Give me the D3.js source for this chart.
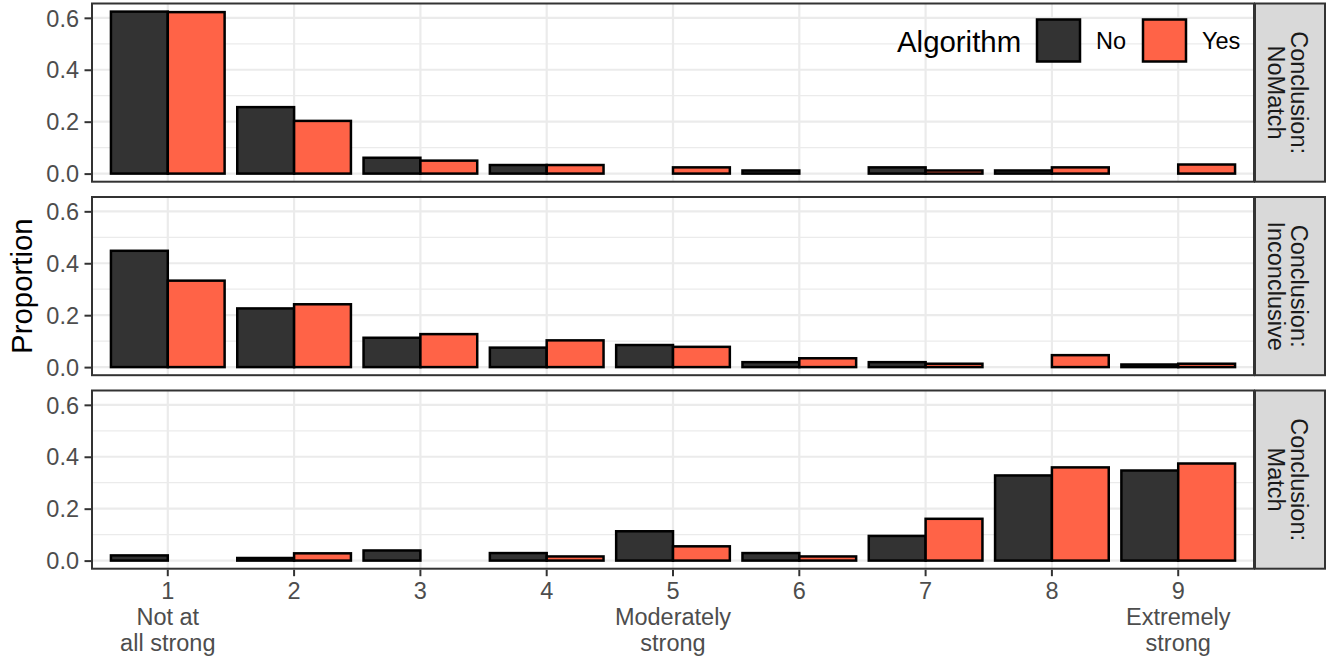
<!DOCTYPE html>
<html><head><meta charset="utf-8">
<script src="https://cdn.jsdelivr.net/npm/d3@7"></script>
<style>
body{margin:0;background:#fff}
text{font-family:"Liberation Sans",Arial,Helvetica,sans-serif}
</style>
</head><body>
<svg id="c" width="1334" height="659"></svg>
<script>
// ---- data ----
const categories = ["1","2","3","4","5","6","7","8","9"];
const tickLabels = [["1","Not at","all strong"],["2"],["3"],["4"],["5","Moderately","strong"],["6"],["7"],["8"],["9","Extremely","strong"]];
const conclusions = ["NoMatch","Inconclusive","Match"];
const algorithms = ["No","Yes"];
const noMatchNo  = [0.624, 0.256, 0.061, 0.033, null, 0.012, 0.024, 0.012, null];
const noMatchYes = [0.622, 0.203, 0.050, 0.033, 0.024, null, 0.012, 0.024, 0.035];
const inconclNo  = [0.448, 0.226, 0.113, 0.075, 0.085, 0.019, 0.019, null, 0.010];
const inconclYes = [0.333, 0.242, 0.127, 0.103, 0.078, 0.034, 0.013, 0.046, 0.013];
const matchNo    = [0.020, 0.010, 0.039, 0.029, 0.113, 0.029, 0.095, 0.328, 0.347];
const matchYes   = [null, 0.028, null, 0.016, 0.055, 0.016, 0.161, 0.359, 0.374];
const yTicks = [0, 0.2, 0.4, 0.6];
const yMinor = [0.1, 0.3, 0.5];
const colors = {No:"#333333", Yes:"#FF6347"};

const seriesByPanel = {
  NoMatch: {No: noMatchNo, Yes: noMatchYes},
  Inconclusive: {No: inconclNo, Yes: inconclYes},
  Match: {No: matchNo, Yes: matchYes}
};

// ---- layout ----
const svg = d3.select("#c");
const left = 92, right = 1254, stripW = 71;
const panelTop0 = 3.5, panelH = 178.2, panelGap = 15.3;
const FS = 23.5, FT = 29.4;

const allVals = [].concat(noMatchNo, noMatchYes, inconclNo, inconclYes, matchNo, matchYes).filter(v => v != null);
const ymax = d3.max(allVals);

const x = d3.scaleBand().domain(categories).range([left, right]).paddingInner(0.1).paddingOuter(0.15);
const xs = d3.scaleBand().domain(algorithms).range([0, x.bandwidth()]).padding(0);
const xCenter = c => x(c) + x.bandwidth() / 2;

conclusions.forEach((con, pi) => {
  const top = panelTop0 + pi * (panelH + panelGap);
  const y = d3.scaleLinear().domain([-0.05 * ymax, 1.05 * ymax]).range([top + panelH, top]);
  const g = svg.append("g");
  g.append("rect").attr("x", left).attr("y", top).attr("width", right - left).attr("height", panelH).attr("fill", "#fff");
  g.selectAll(".mn").data(yMinor).enter().append("line")
    .attr("x1", left).attr("x2", right).attr("y1", d => y(d)).attr("y2", d => y(d))
    .attr("stroke", "#EBEBEB").attr("stroke-width", 1.2);
  g.selectAll(".mj").data(yTicks).enter().append("line")
    .attr("x1", left).attr("x2", right).attr("y1", d => y(d)).attr("y2", d => y(d))
    .attr("stroke", "#EBEBEB").attr("stroke-width", 2.2);
  g.selectAll(".vx").data(categories).enter().append("line")
    .attr("x1", d => xCenter(d)).attr("x2", d => xCenter(d)).attr("y1", top).attr("y2", top + panelH)
    .attr("stroke", "#EBEBEB").attr("stroke-width", 2.2);
  const bars = [];
  algorithms.forEach(a => {
    seriesByPanel[con][a].forEach((v, i) => { if (v != null) bars.push({cat: categories[i], alg: a, v}); });
  });
  g.selectAll(".bar").data(bars).enter().append("rect")
    .attr("x", d => x(d.cat) + xs(d.alg))
    .attr("width", xs.bandwidth())
    .attr("y", d => y(d.v))
    .attr("height", d => y(0) - y(d.v))
    .attr("fill", d => colors[d.alg])
    .attr("stroke", "#000").attr("stroke-width", 2.5);
  g.append("rect").attr("x", left).attr("y", top).attr("width", right - left).attr("height", panelH)
    .attr("fill", "none").attr("stroke", "#333333").attr("stroke-width", 2);
  const ya = g.append("g").attr("transform", `translate(${left - 1},0)`)
    .call(d3.axisLeft(y).tickValues(yTicks).tickFormat(d3.format(".1f")).tickSize(6.5).tickPadding(5.5));
  ya.select(".domain").remove();
  ya.selectAll(".tick line").attr("stroke", "#333333").attr("stroke-width", 2);
  ya.selectAll(".tick text").attr("font-size", FS).attr("fill", "#4D4D4D")
    .attr("font-family", '"Liberation Sans",Arial,sans-serif').attr("dy", "0.35em");
  g.append("rect").attr("x", right + 1).attr("y", top).attr("width", stripW - 1).attr("height", panelH)
    .attr("fill", "#D9D9D9").attr("stroke", "#333333").attr("stroke-width", 2);
  const sc = top + panelH / 2;
  const st = g.append("text").attr("transform", `translate(${right + 33},${sc}) rotate(90)`)
    .attr("text-anchor", "middle").attr("font-size", FS).attr("fill", "#1A1A1A");
  st.append("tspan").attr("x", 0).attr("y", -11.5).attr("dominant-baseline", "central").text("Conclusion:");
  st.append("tspan").attr("x", 0).attr("y", 11.5).attr("dominant-baseline", "central").text(con);

  if (pi === conclusions.length - 1) {
    const xa = g.append("g").attr("transform", `translate(0,${top + panelH + 1})`)
      .call(d3.axisBottom(x).tickSize(6.5).tickPadding(5.5).tickFormat(""));
    xa.select(".domain").remove();
    xa.selectAll(".tick line").attr("stroke", "#333333").attr("stroke-width", 2);
    xa.selectAll(".tick").each(function(d, i) {
      const t = d3.select(this).append("text").attr("text-anchor", "middle")
        .attr("font-size", FS).attr("fill", "#4D4D4D");
      tickLabels[i].forEach((s, k) => {
        t.append("tspan").attr("x", 0).attr("y", 29 + 26 * k).text(s);
      });
    });
  }
});

svg.append("text").attr("transform", `translate(32,${panelTop0 + (3 * panelH + 2 * panelGap) / 2}) rotate(-90)`)
  .attr("text-anchor", "middle").attr("font-size", FT).attr("fill", "#000").text("Proportion");

const lg = svg.append("g");
lg.append("text").attr("x", 897).attr("y", 52).attr("font-size", FT).attr("fill", "#000").text("Algorithm");
const keyX = {No: 1037, Yes: 1143};
algorithms.forEach(a => {
  lg.append("rect").attr("x", keyX[a]).attr("y", 19.5).attr("width", 43).attr("height", 42)
    .attr("fill", colors[a]).attr("stroke", "#000").attr("stroke-width", 2.5);
  lg.append("text").attr("x", keyX[a] + 59).attr("y", 49).attr("font-size", FS).attr("fill", "#000").text(a);
});
</script>
</body></html>
